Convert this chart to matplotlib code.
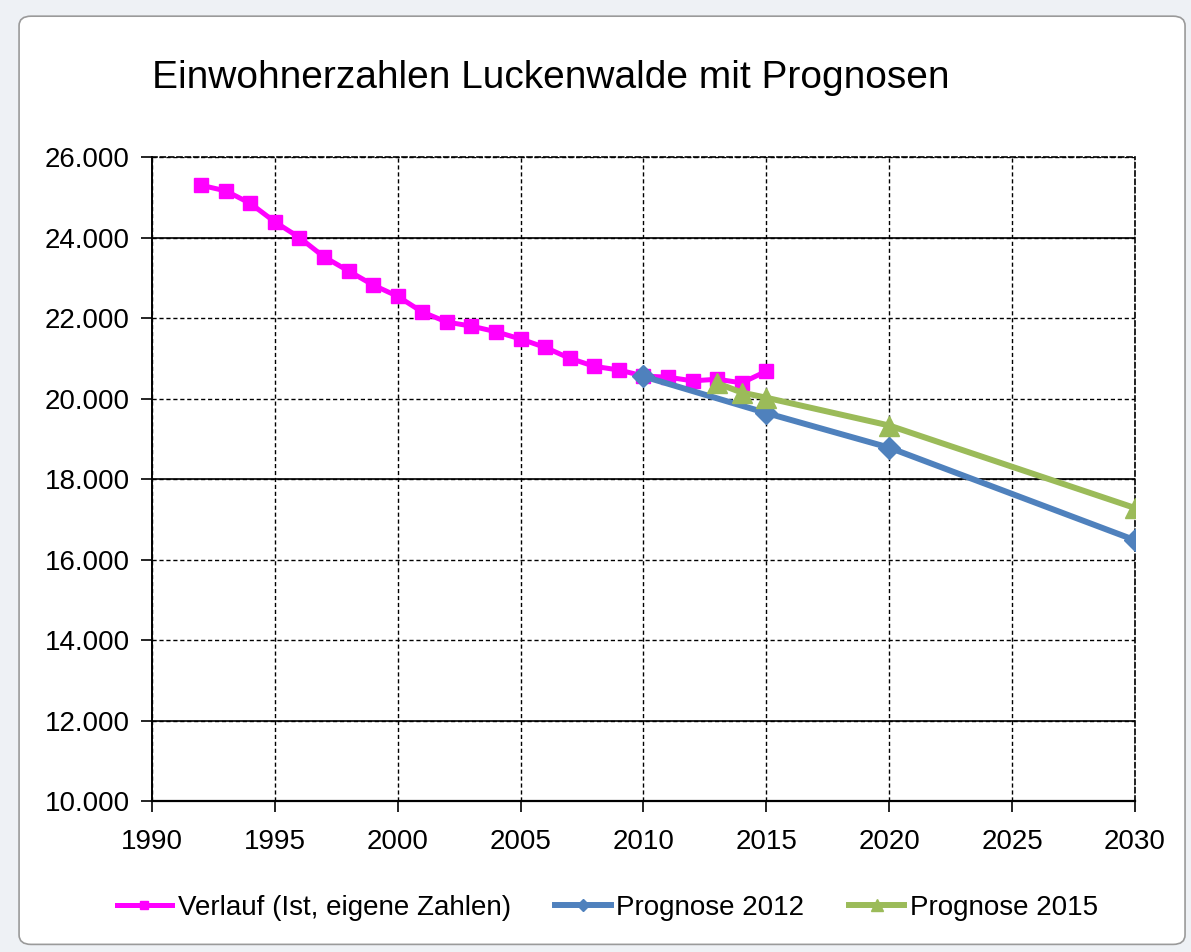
import matplotlib
matplotlib.use("Agg")
from matplotlib import pyplot as plt
from matplotlib.patches import FancyBboxPatch
from matplotlib.ticker import FuncFormatter
import numpy as np

plt.rcParams['font.family'] = ['Liberation Sans', 'DejaVu Sans']

# data
years_ist = np.arange(1992, 2016)
ist = [25300, 25160, 24850, 24390, 24000, 23520, 23170, 22820, 22540, 22150,
       21900, 21800, 21660, 21480, 21270, 21000, 20800, 20710, 20560, 20530,
       20440, 20480, 20390, 20680]
years_p2012 = [2010, 2015, 2020, 2030]
prog_2012 = [20550, 19640, 18780, 16480]
years_p2015 = [2013, 2014, 2015, 2020, 2030]
prog_2015 = [20380, 20150, 20020, 19330, 17280]
labels = ['Verlauf (Ist, eigene Zahlen)', 'Prognose 2012', 'Prognose 2015']
title = 'Einwohnerzahlen Luckenwalde mit Prognosen'

fig = plt.figure(figsize=(11.91, 9.52), dpi=100)
fig.patch.set_facecolor('#eef1f5')
frame = FancyBboxPatch((0.016, 0.008), 0.979, 0.975,
                       boxstyle='round,pad=0,rounding_size=0.01',
                       transform=fig.transFigure, facecolor='white',
                       edgecolor='#9a9a9a', linewidth=1.2, zorder=-10)
fig.patches.append(frame)

ax = fig.add_axes([0.1276, 0.1586, 0.953 - 0.1276, 0.835 - 0.1586])
ax.set_facecolor('white')

ax.plot(years_ist, ist, color='#ff00ff', linewidth=3.6, marker='s',
        markersize=10, label=labels[0], zorder=3)
ax.plot(years_p2012, prog_2012, color='#4f81bd', linewidth=4.3, marker='D',
        markersize=11, label=labels[1], zorder=4)
ax.plot(years_p2015, prog_2015, color='#9bbb59', linewidth=4.3, marker='^',
        markersize=14, label=labels[2], zorder=4)

ax.set_xlim(1990, 2030)
ax.set_ylim(10000, 26000)
ax.set_xticks(np.arange(1990, 2031, 5))
ax.set_yticks(np.arange(10000, 26001, 2000))
ax.yaxis.set_major_formatter(FuncFormatter(lambda v, p: '{:,.0f}'.format(v).replace(',', '.')))
ax.tick_params(labelsize=20, length=8, width=1.2, direction='out', colors='black')
ax.tick_params(axis='x', pad=12)
ax.tick_params(axis='y', pad=8)

ax.grid(True, color='black', linestyle=(0, (3, 2)), linewidth=1.0, zorder=1)
for y in (12000, 18000, 24000):
    ax.axhline(y, color='black', linewidth=1.2, zorder=1.5)

for s in ('top', 'right'):
    ax.spines[s].set_linestyle((0, (3, 2)))
    ax.spines[s].set_linewidth(1.2)
ax.spines['left'].set_linewidth(1.4)
ax.spines['bottom'].set_linewidth(1.6)

fig.text(0.1276, 0.918, title, fontsize=28, va='center', ha='left')

fig.legend(loc='center', bbox_to_anchor=(0.51, 0.046), ncol=3, frameon=False,
           fontsize=20, handlelength=2.0, handletextpad=0.2, columnspacing=1.6,
           markerscale=0.6)

fig.savefig('out.png', dpi=100, facecolor=fig.get_facecolor())
